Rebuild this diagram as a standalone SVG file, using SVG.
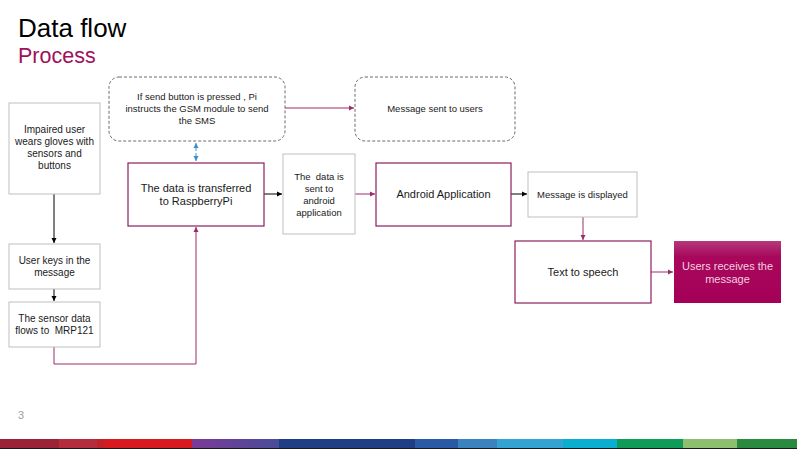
<svg xmlns="http://www.w3.org/2000/svg" width="797" height="449" viewBox="0 0 797 449">
<defs>
<marker id="ab" markerWidth="6" markerHeight="6" refX="5" refY="3" orient="auto" markerUnits="userSpaceOnUse"><path d="M0,0.5 L5,3 L0,5.5 Z" fill="#000"/></marker>
<marker id="ap" markerWidth="6" markerHeight="6" refX="5" refY="3" orient="auto" markerUnits="userSpaceOnUse"><path d="M0,0.5 L5,3 L0,5.5 Z" fill="#9b2d6e"/></marker>
<marker id="abl" markerWidth="6" markerHeight="6" refX="5" refY="3" orient="auto-start-reverse" markerUnits="userSpaceOnUse"><path d="M0,0.5 L5,3 L0,5.5 Z" fill="#3a8fd0"/></marker>
<linearGradient id="gf" x1="0" y1="0" x2="0" y2="1"><stop offset="0" stop-color="#b43a7a"/><stop offset="0.25" stop-color="#a8085c"/><stop offset="1" stop-color="#a50058"/></linearGradient>
<linearGradient id="gpu" x1="0" y1="0" x2="1" y2="0"><stop offset="0" stop-color="#7a3b96"/><stop offset="1" stop-color="#4a4c9a"/></linearGradient>
</defs>
<style>
text{font-family:"Liberation Sans",Arial,sans-serif;fill:#1a1a1a;white-space:pre}
.t{font-size:9.5px;text-anchor:middle}
.tw{font-size:10px;text-anchor:middle}
.tl{font-size:11px;text-anchor:middle}
.g{fill:#fff;stroke:#bfbfbf;stroke-width:1}
.p{fill:#fff;stroke:#8c1f5e;stroke-width:1.2}
.d{fill:#fff;stroke:#6b6b6b;stroke-width:1;stroke-dasharray:3,2}
.cb{fill:none;stroke:#000;stroke-width:1}
.cp{fill:none;stroke:#9b2d6e;stroke-width:1}
</style>
<rect width="797" height="449" fill="#fff"/>
<text x="18" y="37" style="font-size:26px;fill:#000">Data flow</text>
<text x="18" y="63" style="font-size:21.5px;fill:#a0105c">Process</text>
<text x="18" y="419" style="font-size:11px;fill:#a0a0a0">3</text>

<g id="connectors">
<line class="cb" x1="54" y1="194" x2="54" y2="243" marker-end="url(#ab)"/>
<line class="cb" x1="54" y1="289" x2="54" y2="301" marker-end="url(#ab)"/>
<polyline class="cp" points="54,347 54,364 196,364 196,227" marker-end="url(#ap)"/>
<line x1="196" y1="143" x2="196" y2="161" stroke="#3a8fd0" stroke-width="1" stroke-dasharray="3,2" marker-start="url(#abl)" marker-end="url(#abl)"/>
<line class="cp" x1="285" y1="108" x2="354" y2="108" marker-end="url(#ap)"/>
<line class="cb" x1="264" y1="194" x2="282" y2="194" marker-end="url(#ab)"/>
<line class="cp" x1="355" y1="194" x2="375" y2="194" marker-end="url(#ap)"/>
<line class="cb" x1="511" y1="194" x2="527" y2="194" marker-end="url(#ab)"/>
<line class="cp" x1="583" y1="217" x2="583" y2="240" marker-end="url(#ap)"/>
<line class="cp" x1="651" y1="272" x2="673" y2="272" marker-end="url(#ap)"/>
</g>

<g id="n-impaired"><rect class="g" x="9" y="103" width="91" height="91"/>
<text class="tw" x="54.5" y="133">Impaired user</text><text class="tw" x="54.5" y="145">wears gloves with</text><text class="tw" x="54.5" y="157">sensors and</text><text class="tw" x="54.5" y="169">buttons</text></g>
<g id="n-keys"><rect class="g" x="9" y="244" width="91" height="45"/>
<text class="tw" x="54.5" y="264">User keys in the</text><text class="tw" x="54.5" y="276">message</text></g>
<g id="n-sensor"><rect class="g" x="9" y="302" width="91" height="45"/>
<text class="tw" x="54.5" y="322">The sensor data</text><text class="tw" x="54.5" y="334" xml:space="preserve">flows to  MRP121</text></g>
<g id="n-gsm"><rect class="d" x="109" y="77" width="176" height="64" rx="10"/>
<text class="t" x="197" y="100">If send button is pressed , Pi</text><text class="t" x="197" y="112">instructs the GSM module to send</text><text class="t" x="197" y="124">the SMS</text></g>
<g id="n-sent-users"><rect class="d" x="355" y="77" width="160" height="64" rx="10"/>
<text class="t" x="435" y="112">Message sent to users</text></g>
<g id="n-pi"><rect class="p" x="128" y="163" width="136" height="63"/>
<text class="tl" x="196" y="192">The data is transferred</text><text class="tl" x="196" y="205">to RaspberryPi</text></g>
<g id="n-sent-android"><rect class="g" x="283" y="154" width="72" height="80"/>
<text class="t" x="319" y="180" xml:space="preserve">The  data is</text><text class="t" x="319" y="192">sent to</text><text class="t" x="319" y="204">android</text><text class="t" x="319" y="216">application</text></g>
<g id="n-android"><rect class="p" x="376" y="163" width="135" height="63"/>
<text class="tl" x="443.5" y="198">Android Application</text></g>
<g id="n-displayed"><rect class="g" x="528" y="172" width="109" height="45"/>
<text class="t" x="582.5" y="198">Message is displayed</text></g>
<g id="n-tts"><rect class="p" x="515" y="241" width="136" height="62"/>
<text class="tl" x="583" y="276">Text to speech</text></g>
<g id="n-receive"><rect x="674" y="241" width="107" height="62" fill="url(#gf)"/>
<text class="tl" x="727.5" y="270" style="fill:#f3d0e0">Users receives the</text><text class="tl" x="727.5" y="283" style="fill:#f3d0e0">message</text></g>

<g id="footer-bar">
<rect x="0" y="439" width="797" height="10" fill="#1a1a1a"/>
<rect x="0" y="439" width="59" height="9" fill="#9b2335"/>
<rect x="59" y="439" width="38" height="9" fill="#b52c3c"/>
<rect x="97" y="439" width="7" height="9" fill="#c0222c"/>
<rect x="104" y="439" width="88" height="9" fill="#d71920"/>
<rect x="192" y="439" width="87" height="9" fill="url(#gpu)"/>
<rect x="279" y="439" width="136" height="9" fill="#1f3e85"/>
<rect x="415" y="439" width="43" height="9" fill="#2a5aa5"/>
<rect x="458" y="439" width="39" height="9" fill="#3a82c0"/>
<rect x="497" y="439" width="66" height="9" fill="#33a3d2"/>
<rect x="563" y="439" width="54" height="9" fill="#0aaed0"/>
<rect x="617" y="439" width="66" height="9" fill="#0f9b58"/>
<rect x="683" y="439" width="54" height="9" fill="#8dbf6e"/>
<rect x="737" y="439" width="60" height="9" fill="#2a8a40"/>
</g>
</svg>
